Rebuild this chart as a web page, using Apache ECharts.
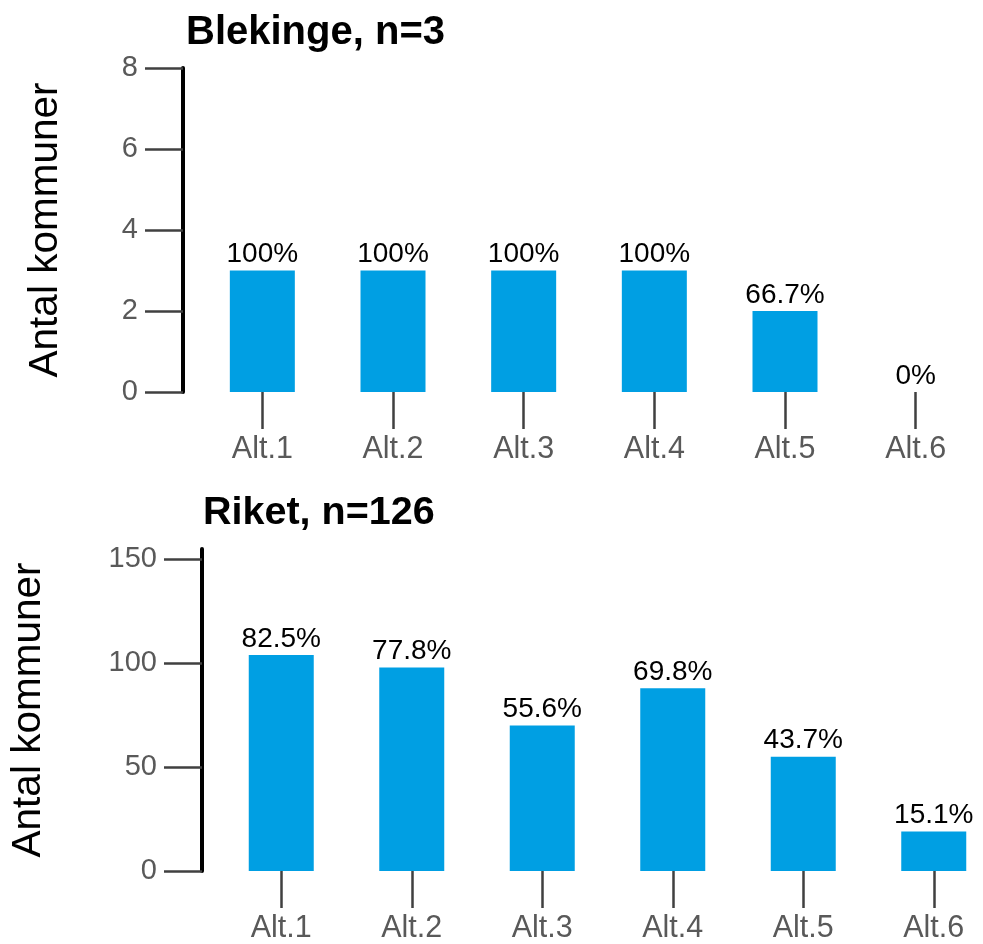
<!DOCTYPE html>
<html>
<head>
<meta charset="utf-8">
<script src="https://cdn.jsdelivr.net/npm/echarts@6/dist/echarts.min.js"></script>
<style>
  html, body { margin: 0; padding: 0; background: #fff; overflow: hidden; }
  /* a bit wider than the window: the last band of the lower panel runs past the right edge */
  #chart { width: 1000px; height: 944px; }
</style>
</head>
<body>
<div id="chart"></div>
<script>
var categories = ['Alt.1', 'Alt.2', 'Alt.3', 'Alt.4', 'Alt.5', 'Alt.6'];

// Blekinge, n=3
var blekingeTitle = 'Blekinge, n=3';
var blekingeCounts = [3, 3, 3, 3, 2, 0];
var blekingePct = ['100%', '100%', '100%', '100%', '66.7%', '0%'];
var blekingeTicks = [0, 2, 4, 6, 8];

// Riket, n=126
var riketTitle = 'Riket, n=126';
var riketCounts = [104, 98, 70, 88, 55, 19];
var riketPct = ['82.5%', '77.8%', '55.6%', '69.8%', '43.7%', '15.1%'];
var riketTicks = [0, 50, 100, 150];

var FONT = '"Liberation Sans", Arial, sans-serif';
var BAR = '#009FE3';

function xAxisFor(idx) {
    return {
        type: 'category',
        gridIndex: idx,
        data: categories,
        axisLine: { show: false },
        axisTick: {
            show: true, alignWithLabel: true, length: 37,
            lineStyle: { color: '#404040', width: 2.5 }
        },
        axisLabel: { color: '#595959', fontSize: 30.5, fontFamily: FONT, margin: 42 },
        splitLine: { show: false }
    };
}

function yAxisFor(idx, max, ticks, nameGap) {
    return {
        type: 'value',
        gridIndex: idx,
        min: 0,
        max: max,
        offset: 14,
        name: 'Antal kommuner',
        nameLocation: 'middle',
        nameGap: nameGap,
        nameTextStyle: { color: '#000', fontSize: 40.5, fontFamily: FONT },
        axisLine: { show: true, lineStyle: { color: '#000', width: 4 } },
        axisTick: {
            show: true, length: 38, customValues: ticks,
            lineStyle: { color: '#404040', width: 2.5 }
        },
        axisLabel: {
            color: '#595959', fontSize: 29, fontFamily: FONT, margin: 45,
            customValues: ticks
        },
        splitLine: { show: false }
    };
}

function seriesFor(idx, counts, pct) {
    return {
        type: 'bar',
        xAxisIndex: idx,
        yAxisIndex: idx,
        data: counts,
        barWidth: 65,
        itemStyle: { color: BAR },
        label: {
            show: true,
            position: 'top',
            distance: 2,
            color: '#000',
            fontSize: 28,
            fontFamily: FONT,
            formatter: function (p) { return pct[p.dataIndex]; }
        }
    };
}

var chart = echarts.init(document.getElementById('chart'));
chart.setOption({
    animation: false,
    backgroundColor: '#fff',
    title: [
        { text: blekingeTitle, left: 181, top: 8,
          textStyle: { fontSize: 40, fontWeight: 'bold', color: '#000', fontFamily: FONT } },
        { text: riketTitle, left: 198, top: 488,
          textStyle: { fontSize: 39.5, fontWeight: 'bold', color: '#000', fontFamily: FONT } }
    ],
    grid: [
        { left: 197, top: 68, width: 784, height: 324 },
        { left: 215, top: 549, width: 784, height: 324 }
    ],
    xAxis: [xAxisFor(0), xAxisFor(1)],
    yAxis: [yAxisFor(0, 8, blekingeTicks, 117), yAxisFor(1, 155, riketTicks, 153)],
    series: [
        seriesFor(0, blekingeCounts, blekingePct),
        seriesFor(1, riketCounts, riketPct)
    ]
});
</script>
</body>
</html>
